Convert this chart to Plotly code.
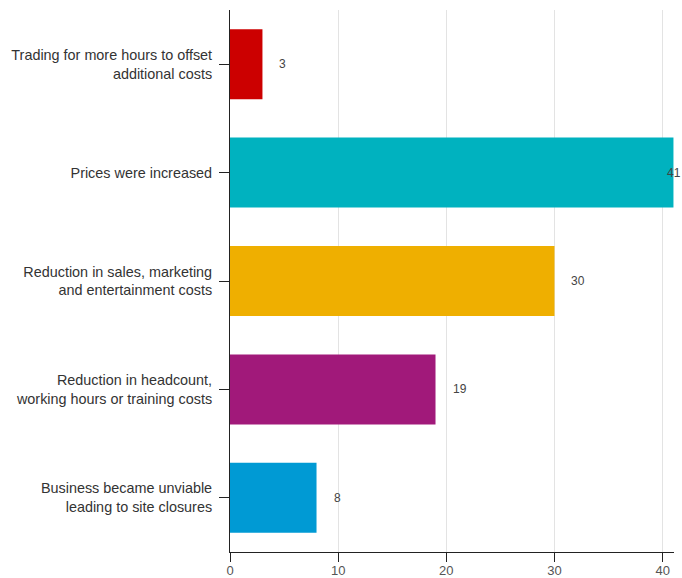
import plotly.graph_objects as go

categories = [
    "Trading for more hours to offset<br>additional costs",
    "Prices were increased",
    "Reduction in sales, marketing<br>and entertainment costs",
    "Reduction in headcount,<br>working hours or training costs",
    "Business became unviable<br>leading to site closures",
]
values = [3, 41, 30, 19, 8]
colors = ["#CC0000", "#00B2BF", "#EFAF00", "#A1197A", "#009AD4"]
x_max = 41.05

fig = go.Figure(
    go.Bar(
        x=values,
        y=categories,
        orientation="h",
        marker=dict(color=colors, line=dict(width=0)),
        hoverinfo="x+y",
    )
)

# value labels just past each bar end, pulled back onto the axis end when they would overflow
for cat, v in zip(categories, values):
    if v + 1.3 > x_max:
        fig.add_annotation(x=x_max, y=cat, text=str(v), showarrow=False,
                           xanchor="center", font=dict(size=12, color="#444444"))
    else:
        fig.add_annotation(x=v, y=cat, text=str(v), showarrow=False,
                           xanchor="left", xshift=15, font=dict(size=12, color="#444444"))

fig.update_layout(
    width=682,
    height=578,
    margin=dict(l=230, r=8, t=10, b=26, autoexpand=False),
    plot_bgcolor="white",
    paper_bgcolor="white",
    bargap=0.354,
    showlegend=False,
    font=dict(family="Liberation Sans, Arial, sans-serif", color="#333333"),
    xaxis=dict(
        range=[0, x_max],
        tickvals=[0, 10, 20, 30, 40],
        automargin=False,
        showgrid=True,
        gridcolor="#E3E3E3",
        gridwidth=1,
        zeroline=False,
        showline=True,
        linecolor="#222222",
        linewidth=1,
        ticks="outside",
        ticklen=9,
        tickcolor="#222222",
        ticklabelstandoff=-3,
        tickfont=dict(size=13, color="#555555"),
    ),
    yaxis=dict(
        autorange="reversed",
        automargin=False,
        showgrid=False,
        zeroline=False,
        showline=True,
        linecolor="#222222",
        linewidth=1,
        ticks="outside",
        ticklen=10,
        tickcolor="#222222",
        ticklabelstandoff=4,
        tickfont=dict(size=14.4, color="#333333"),
    ),
)

fig.write_html("out.html")
